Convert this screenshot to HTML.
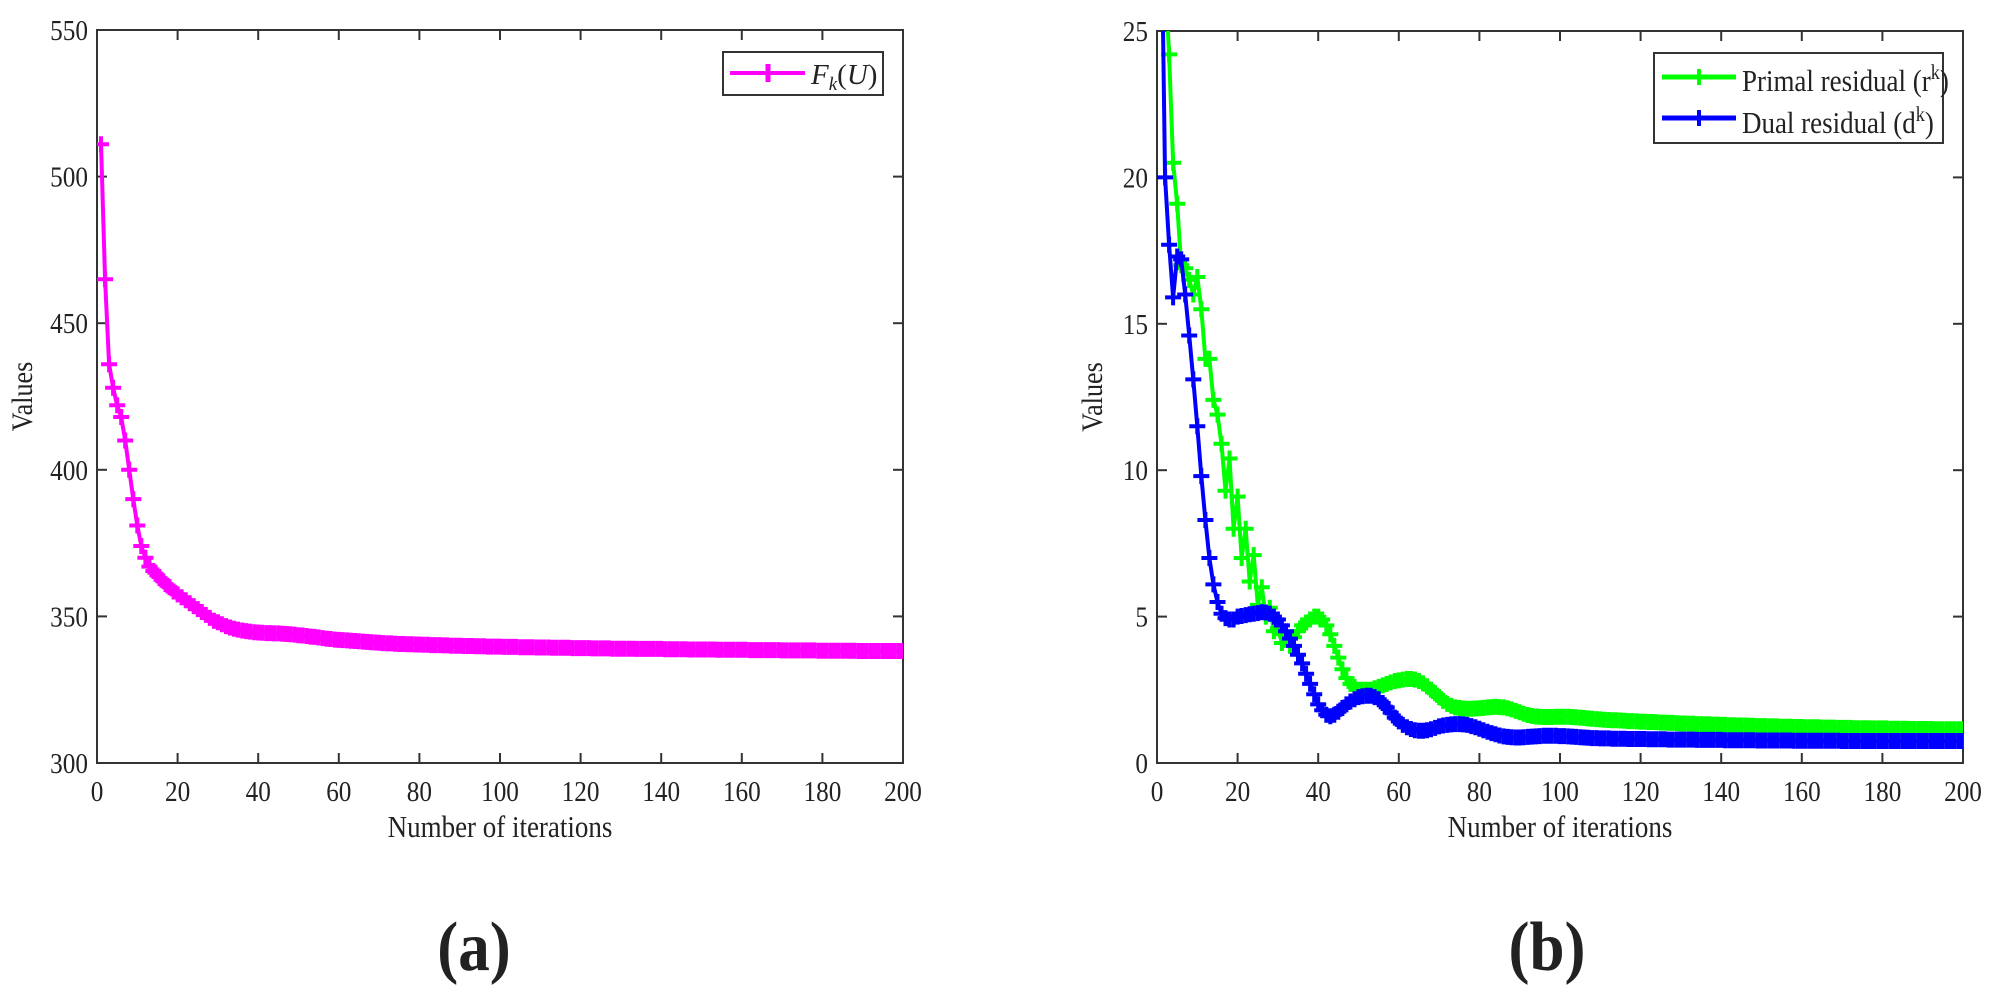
<!DOCTYPE html>
<html><head><meta charset="utf-8"><style>
body{margin:0;background:#fff}
svg text{font-family:"Liberation Serif",serif;fill:#222}
</style></head><body>
<svg id="s" width="2000" height="1000" viewBox="0 0 2000 1000" xmlns="http://www.w3.org/2000/svg">
<defs>
<clipPath id="ca"><rect x="97" y="30" width="806" height="733"/></clipPath>
<clipPath id="cb"><rect x="1157" y="31" width="806" height="732"/></clipPath>
</defs>
<g id="ga"></g>
<g id="gb"></g>
<text transform="translate(474,970) scale(0.9,1)" font-size="70" font-weight="bold" text-anchor="middle">(a)</text>
<text transform="translate(1547,970) scale(0.9,1)" font-size="70" font-weight="bold" text-anchor="middle">(b)</text>
</svg>
<script>
const iterTicks=[0,20,40,60,80,100,120,140,160,180,200];
const fTicks=[300,350,400,450,500,550];
const rTicks=[0,5,10,15,20,25];
const fValues=[511,465,436,428,422,418,410,400,390,381,374,370,367,365.5,364,362.5,361,360,358.5,357.5,
356.5,355.5,354.5,353.5,352.5,351.5,350.5,349.5,348.5,348,347.3,346.7,346.2,345.8,345.5,345.2,345,344.8,344.6,344.5,
344.4,344.3,344.3,344.2,344.2,344.1,344,343.9,343.8,343.6,343.5,343.3,343.1,343,342.8,342.6,342.4,342.3,342.1,342,
341.9,341.8,341.7,341.6,341.5,341.4,341.3,341.2,341.1,341,340.9,340.8,340.8,340.7,340.6,340.6,340.5,340.5,340.4,340.4,
340.3,340.3,340.2,340.2,340.2,340.1,340.1,340,340,340,339.9,339.9,339.9,339.8,339.8,339.8,339.7,339.7,339.7,339.7,
339.6,339.6,339.6,339.6,339.5,339.5,339.5,339.5,339.4,339.4,339.4,339.4,339.3,339.3,339.3,339.3,339.3,339.2,339.2,339.2,
339.2,339.2,339.1,339.1,339.1,339.1,339.1,339,339,339,339,339,339,338.9,338.9,338.9,338.9,338.9,338.9,338.9,
338.8,338.8,338.8,338.8,338.8,338.8,338.7,338.7,338.7,338.7,338.7,338.7,338.7,338.6,338.6,338.6,338.6,338.6,338.6,338.6,
338.6,338.5,338.5,338.5,338.5,338.5,338.5,338.5,338.5,338.4,338.4,338.4,338.4,338.4,338.4,338.4,338.4,338.4,338.3,338.3,
338.3,338.3,338.3,338.3,338.3,338.3,338.3,338.3,338.2,338.2,338.2,338.2,338.2,338.2,338.2,338.2,338.2,338.2,338.2,338.2];
const primal=[30,27,24.2,20.5,19.1,17,16.9,16.5,16,16.6,15.5,13.8,13.8,12.4,11.9,10.9,9.3,10.4,8.0,9.1,
7.0,8.0,6.2,7.1,5.4,6.0,5.0,5.3,4.5,4.6,4.1,4.4,4.0,4.3,4.5,4.7,4.8,4.9,5.0,5.0,
4.9,4.7,4.4,4.0,3.6,3.2,2.9,2.7,2.6,2.5,
2.5,2.5,2.5,2.55,2.6,2.65,2.7,2.75,2.8,2.82,
2.85,2.87,2.87,2.85,2.8,2.72,2.62,2.5,2.38,2.25,
2.12,2.02,1.95,1.9,1.88,1.86,1.85,1.85,1.86,1.87,
1.88,1.9,1.91,1.92,1.91,1.9,1.87,1.83,1.78,1.73,
1.68,1.64,1.61,1.59,1.58,1.57,1.57,1.57,1.58,1.58,
1.58,1.58,1.57,1.56,1.55,1.54,1.52,1.51,1.5,1.49,
1.48,1.47,1.46,1.46,1.45,1.44,1.43,1.43,1.42,1.41,
1.41,1.4,1.4,1.39,1.38,1.38,1.37,1.37,1.36,1.35,1.35,1.34,1.34,1.33,1.33,1.32,1.32,1.31,1.31,1.3,
1.3,1.29,1.29,1.28,1.28,1.28,1.27,1.27,1.26,1.26,1.26,1.25,1.25,1.25,1.24,1.24,1.24,1.23,1.23,1.23,
1.22,1.22,1.22,1.22,1.21,1.21,1.21,1.21,1.2,1.2,1.2,1.2,1.19,1.19,1.19,1.19,1.18,1.18,1.18,1.18,
1.18,1.17,1.17,1.17,1.17,1.17,1.16,1.16,1.16,1.16,1.16,1.16,1.15,1.15,1.15,1.15,1.15,1.15,1.15,1.15];
const dual=[30,20,17.7,15.9,17.3,17.2,16.0,14.6,13.1,11.5,9.8,8.3,7.0,6.1,5.5,5.1,4.95,4.9,4.9,5.0,
5.02,5.05,5.08,5.1,5.12,5.15,5.14,5.1,5.0,4.9,4.7,4.5,4.25,4.0,3.7,3.4,3.05,2.7,2.35,2.0,
1.8,1.65,1.6,1.65,1.75,1.88,2.0,2.1,2.18,2.25,
2.28,2.3,2.3,2.25,2.18,2.05,1.9,1.72,1.55,1.42,
1.3,1.22,1.16,1.12,1.1,1.1,1.12,1.15,1.2,1.25,
1.28,1.3,1.32,1.33,1.33,1.32,1.3,1.26,1.22,1.17,
1.12,1.07,1.02,0.98,0.94,0.91,0.89,0.88,0.87,0.87,
0.88,0.89,0.9,0.91,0.92,0.93,0.93,0.93,0.93,0.92,
0.92,0.91,0.9,0.89,0.88,0.87,0.86,0.85,0.85,0.84,
0.84,0.84,0.83,0.83,0.83,0.83,0.82,0.82,0.82,0.82,
0.82,0.81,0.81,0.81,0.81,0.81,0.8,0.8,0.8,0.8,0.8,0.8,0.8,0.79,0.79,0.79,0.79,0.79,0.79,0.79,
0.78,0.78,0.78,0.78,0.78,0.78,0.78,0.78,0.77,0.77,0.77,0.77,0.77,0.77,0.77,0.77,0.77,0.76,0.76,0.76,
0.76,0.76,0.76,0.76,0.76,0.76,0.76,0.76,0.76,0.75,0.75,0.75,0.75,0.75,0.75,0.75,0.75,0.75,0.75,0.75,
0.75,0.75,0.75,0.75,0.75,0.75,0.75,0.75,0.75,0.75,0.75,0.75,0.75,0.75,0.75,0.75,0.75,0.75,0.75,0.75];

const NS='http://www.w3.org/2000/svg';
const SQ=0.87;
function mk(parent,tag,attrs){const e=document.createElementNS(NS,tag);for(const k in attrs)e.setAttribute(k,attrs[k]);parent.appendChild(e);return e;}
function txt(parent,x,y,size,anchor,str,extra){
  const a=Object.assign({transform:`translate(${x},${y}) scale(${SQ},1)`,'font-size':size,'text-anchor':anchor},extra||{});
  const t=mk(parent,'text',a);t.textContent=str;return t;
}

function drawChart(g,box,ymin,ymax,yTicks,clipId,series,yLabelX,nameP){
  const sx=v=>box.x+(v-0)/(200-0)*box.w;
  const sy=v=>box.y+box.h-(v-ymin)/(ymax-ymin)*box.h;
  const frame=mk(g,'rect',{x:box.x,y:box.y,width:box.w,height:box.h,fill:'none',stroke:'#333','stroke-width':2});
  
  
  iterTicks.forEach(t=>{
    const x=sx(t);
    mk(g,'line',{x1:x,y1:box.y+box.h,x2:x,y2:box.y+box.h-10,stroke:'#333','stroke-width':2});
    mk(g,'line',{x1:x,y1:box.y,x2:x,y2:box.y+10,stroke:'#333','stroke-width':2});
    const tx=txt(g,x,box.y+box.h+38,29,'middle',String(t));
    
    
  });
  yTicks.forEach(t=>{
    const y=sy(t);
    mk(g,'line',{x1:box.x,y1:y,x2:box.x+10,y2:y,stroke:'#333','stroke-width':2});
    mk(g,'line',{x1:box.x+box.w,y1:y,x2:box.x+box.w-10,y2:y,stroke:'#333','stroke-width':2});
    const ty=txt(g,box.x-9,y+10,29,'end',String(t));
    
    
  });
  const xl=txt(g,box.x+box.w/2,box.y+box.h+74,31,'middle','Number of iterations');
  
  
  const cy=box.y+box.h/2;
  const yl=mk(g,'text',{transform:`translate(${yLabelX},${cy}) rotate(-90) scale(${SQ},1)`,'font-size':30,'text-anchor':'middle'});
  yl.textContent='Values';
  
  
  const cg=mk(g,'g',{'clip-path':`url(#${clipId})`});
  series.forEach(s=>{
    const pts=s.data.map((v,i)=>sx(i+1).toFixed(2)+','+sy(v).toFixed(2)).join(' ');
    const pl=mk(cg,'polyline',{points:pts,fill:'none',stroke:s.color,'stroke-width':4,'stroke-linejoin':'round'});
    
    
    let d='';
    s.data.forEach((v,i)=>{const x=sx(i+1),y=sy(v);d+=`M${(x-8).toFixed(1)} ${y.toFixed(1)}h16M${x.toFixed(1)} ${(y-8).toFixed(1)}v16`;});
    const mp=mk(cg,'path',{d:d,stroke:s.color,'stroke-width':4,fill:'none'});
    
    
  });
}
const ga=document.getElementById('ga'),gb=document.getElementById('gb');
drawChart(ga,{x:97,y:30,w:806,h:733},300,550,fTicks,'ca',[{data:fValues,color:'#ff00ff',name:'fk-series'}],32,'chart-a');
drawChart(gb,{x:1157,y:31,w:806,h:732},0,25,rTicks,'cb',[{data:primal,color:'#00ff00',name:'primal-residual'},{data:dual,color:'#0000ff',name:'dual-residual'}],1102,'chart-b');

// legend a
const la=mk(ga,'g',{});


mk(la,'rect',{x:723,y:52,width:160,height:43,fill:'#fff',stroke:'#333','stroke-width':2});
mk(la,'line',{x1:730,y1:73,x2:805,y2:73,stroke:'#ff00ff','stroke-width':4});
mk(la,'path',{d:'M768 64v18',stroke:'#ff00ff','stroke-width':5});
const lta=mk(la,'text',{x:811,y:84,'font-size':29,'font-style':'italic'});
lta.innerHTML='F<tspan font-size="19" dy="6">k</tspan><tspan dy="-6" font-style="normal">(</tspan>U<tspan font-style="normal">)</tspan>';


// legend b
const lb=mk(gb,'g',{});


mk(lb,'rect',{x:1654,y:53,width:289,height:90,fill:'#fff',stroke:'#333','stroke-width':2});
mk(lb,'line',{x1:1662,y1:77,x2:1736,y2:77,stroke:'#00ff00','stroke-width':5});
mk(lb,'path',{d:'M1699 69v16',stroke:'#00ff00','stroke-width':4});
mk(lb,'line',{x1:1662,y1:118,x2:1736,y2:118,stroke:'#0000ff','stroke-width':5});
mk(lb,'path',{d:'M1699 110v16',stroke:'#0000ff','stroke-width':4});
const t1=mk(lb,'text',{transform:`translate(1742,91) scale(${SQ},1)`,'font-size':31});
t1.innerHTML='Primal residual (r<tspan dy="-12" font-size="21">k</tspan><tspan dy="12">)</tspan>';


const t2=mk(lb,'text',{transform:`translate(1742,133) scale(${SQ},1)`,'font-size':31});
t2.innerHTML='Dual residual (d<tspan dy="-12" font-size="21">k</tspan><tspan dy="12">)</tspan>';


</script>
</body></html>
